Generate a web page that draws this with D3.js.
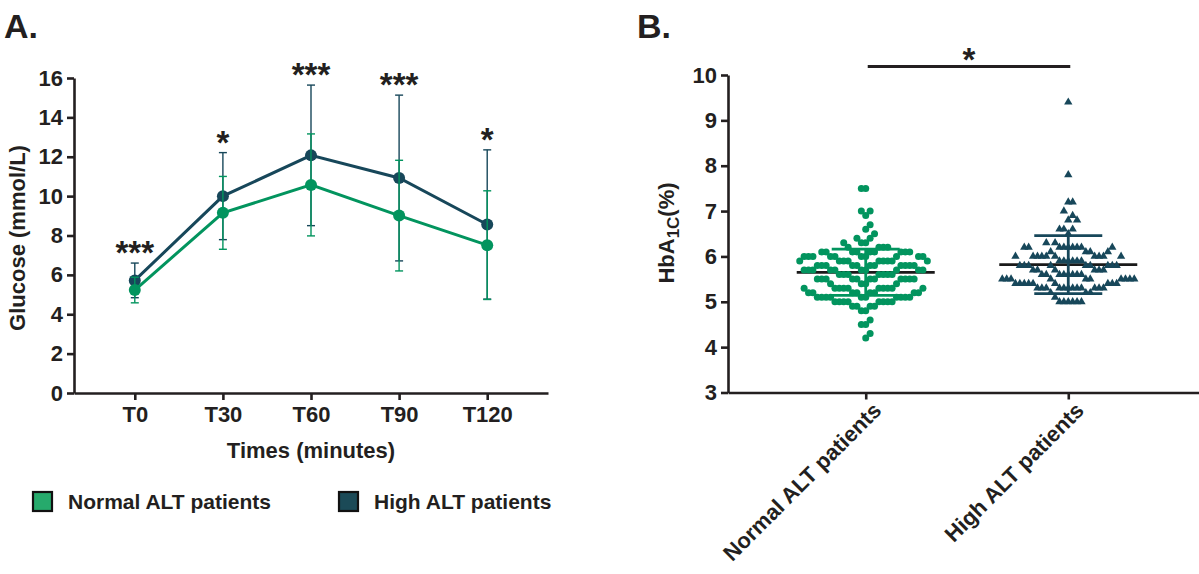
<!DOCTYPE html>
<html lang="en">
<head>
<meta charset="UTF-8">
<title>Glucose and HbA1c by ALT group</title>
<script src="https://cdn.jsdelivr.net/npm/d3@7"></script>
<style>
  body { margin: 0; background: #fff; }
  svg { display: block; font-family: "Liberation Sans", Arial, sans-serif; font-weight: bold; }
  .axis path, .axis line { stroke: #231f20; stroke-width: 2.6; }
  .axis text { font-size: 22px; font-weight: bold; fill: #231f20; font-family: "Liberation Sans", Arial, sans-serif; }
</style>
</head>
<body>
<svg id="chart" width="1199" height="574"></svg>
<script>
// panel A: OGTT glucose, mean and SD per time point
const timepoints = ["T0", "T30", "T60", "T90", "T120"];
const normalMean = [5.23, 9.15, 10.57, 9.01, 7.51];
const normalSD   = [0.65, 1.85, 2.59, 2.81, 2.76];
const highMean   = [5.72, 10.0, 12.07, 10.92, 8.56];
const highSD     = [0.88, 2.21, 3.57, 4.21, 3.79];
const pStars     = ["***", "*", "***", "***", "*"];
const glucoseTicks = [0, 2, 4, 6, 8, 10, 12, 14, 16];

// panel B: HbA1c, [value, number of patients]
const groups = ["Normal ALT patients", "High ALT patients"];
const normalHbA1c = [[4.2,1],[4.3,1],[4.5,2],[4.6,1],[4.8,2],[4.9,4],[5.0,8],[5.1,10],[5.2,8],[5.3,10],
  [5.4,4],[5.5,11],[5.6,7],[5.7,10],[5.8,11],[5.9,9],[6.0,10],[6.1,9],[6.2,4],[6.3,3],[6.4,2],
  [6.5,1],[6.6,1],[6.7,1],[6.9,1],[7.0,2],[7.5,2]];
const highHbA1c = [[5.0,6],[5.1,1],[5.2,3],[5.3,12],[5.4,9],[5.5,10],[5.6,8],[5.7,6],[5.8,9],[5.9,6],
  [6.0,10],[6.1,4],[6.2,9],[6.3,2],[6.5,1],[6.6,3],[6.8,2],[6.9,1],[7.0,1],[7.2,2],[7.8,1],[9.4,1]];
const hbMean = [5.65, 5.82];
const hbSD   = [0.51, 0.64];
const hbTicks = [3, 4, 5, 6, 7, 8, 9, 10];

const green = "#02945e";
const dark = "#17475a";
const ink = "#231f20";

const svg = d3.select("#chart");

// ---------- panel A ----------
const xA = d3.scalePoint().domain(timepoints).range([74, 548]).padding(0.69);
const yA = d3.scaleLinear().domain([0, 16]).range([393, 78]);

svg.append("g").attr("class", "axis")
  .attr("transform", "translate(74,0)")
  .call(d3.axisLeft(yA).tickValues(glucoseTicks).tickSize(7).tickSizeOuter(0).tickPadding(4));
svg.append("g").attr("class", "axis")
  .attr("transform", "translate(0,393)")
  .call(d3.axisBottom(xA).tickSize(7).tickSizeOuter(0).tickPadding(6));

svg.append("text").attr("transform", "translate(25,238) rotate(-90)")
  .attr("text-anchor", "middle").style("font-size", "22px").attr("fill", ink)
  .text("Glucose (mmol/L)");
svg.append("text").attr("x", xA("T60")).attr("y", 458)
  .attr("text-anchor", "middle").style("font-size", "22px").attr("fill", ink)
  .text("Times (minutes)");
svg.append("text").attr("x", 4).attr("y", 38).style("font-size", "34px").attr("fill", ink).text("A.");

const seriesA = [
  { mean: highMean, sd: highSD, color: dark },
  { mean: normalMean, sd: normalSD, color: green }
];

seriesA.forEach(s => {
  const g = svg.append("g");
  const rows = timepoints.map((t, i) => ({ t, m: s.mean[i], sd: s.sd[i] }));
  g.selectAll(".eb").data(rows).enter().append("line")
    .attr("x1", d => xA(d.t)).attr("x2", d => xA(d.t))
    .attr("y1", d => yA(d.m - d.sd)).attr("y2", d => yA(d.m + d.sd))
    .attr("stroke", s.color).attr("stroke-width", 1.4);
  [-1, 1].forEach(k => {
    g.selectAll(".cap").data(rows).enter().append("line")
      .attr("x1", d => xA(d.t) - 4).attr("x2", d => xA(d.t) + 4)
      .attr("y1", d => yA(d.m + k * d.sd)).attr("y2", d => yA(d.m + k * d.sd))
      .attr("stroke", s.color).attr("stroke-width", 1.4);
  });
  g.append("path").datum(rows)
    .attr("d", d3.line().x(d => xA(d.t)).y(d => yA(d.m)))
    .attr("fill", "none").attr("stroke", s.color).attr("stroke-width", 3);
  g.selectAll("circle").data(rows).enter().append("circle")
    .attr("cx", d => xA(d.t)).attr("cy", d => yA(d.m)).attr("r", 6)
    .attr("fill", s.color);
});

svg.selectAll(".star").data(timepoints).enter().append("text")
  .attr("x", t => xA(t)).attr("y", (t, i) => yA(highMean[i] + highSD[i]) + 1)
  .attr("text-anchor", "middle").style("font-size", "33px").attr("fill", ink)
  .text((t, i) => pStars[i]);

// legend
const legend = [
  { label: "Normal ALT patients", color: "#26aa6c", x: 33 },
  { label: "High ALT patients", color: "#1b4a57", x: 339 }
];
legend.forEach(l => {
  svg.append("rect").attr("x", l.x).attr("y", 492).attr("width", 19).attr("height", 19)
    .attr("fill", l.color).attr("stroke", "#111").attr("stroke-width", 2.2);
  svg.append("text").attr("x", l.x + 35).attr("y", 509).style("font-size", "21px")
    .attr("fill", ink).text(l.label);
});

// ---------- panel B ----------
const xB = d3.scalePoint().domain(groups).range([728, 1206]).padding(0.68);
const yB = d3.scaleLinear().domain([3, 10]).range([392.5, 75]);

svg.append("g").attr("class", "axis")
  .attr("transform", "translate(728,0)")
  .call(d3.axisLeft(yB).tickValues(hbTicks).tickFormat(d3.format("d"))
    .tickSize(7).tickSizeOuter(0).tickPadding(4));
const xAxisB = svg.append("g").attr("class", "axis")
  .attr("transform", "translate(0,392.5)")
  .call(d3.axisBottom(xB).tickSize(7).tickSizeOuter(0));
xAxisB.selectAll("text")
  .attr("text-anchor", "end")
  .attr("transform", "translate(11,14) rotate(-45)")
  .attr("dy", "0.35em").attr("y", 0).attr("x", 0);

const yLab = svg.append("text").attr("transform", "translate(674,233) rotate(-90)")
  .attr("text-anchor", "middle").style("font-size", "22px").attr("fill", ink);
yLab.append("tspan").text("HbA");
yLab.append("tspan").attr("dy", 5).style("font-size", "17px").text("1C");
yLab.append("tspan").attr("dy", -5).text("(%)");
svg.append("text").attr("x", 637).attr("y", 38).style("font-size", "34px").attr("fill", ink).text("B.");

// significance bar
svg.append("line").attr("x1", xB(groups[0]) + 2).attr("x2", xB(groups[1]) + 2)
  .attr("y1", 66.5).attr("y2", 66.5).attr("stroke", ink).attr("stroke-width", 3);
svg.append("text").attr("x", (xB(groups[0]) + xB(groups[1])) / 2 + 2).attr("y", 71)
  .attr("text-anchor", "middle").style("font-size", "33px").attr("fill", ink).text("*");

// greedy column scatter: a point may not share x with points up to two rows away
function swarm(pairs, step, half) {
  const placed = [];
  let flip = 1;
  pairs.forEach(([v, n]) => {
    for (let i = 0; i < n; i++) {
      const row = Math.round(v * 10);
      const near = placed.filter(p => Math.abs(p.row - row) <= 2);
      const cands = [0];
      near.forEach(p => cands.push(p.dx - step, p.dx + step));
      cands.sort((a, b) => Math.abs(a) - Math.abs(b) || flip * (a - b));
      const dx = cands.find(c => near.every(p => Math.abs(p.dx - c) >= step - 1e-6));
      placed.push({ v, row, dx });
      flip = -flip;
    }
  });
  const k = Math.min(1, half / d3.max(placed, p => Math.abs(p.dx)));
  placed.forEach(p => p.dx *= k);
  return placed;
}

const hbSets = [
  { data: normalHbA1c, color: green, shape: "circle" },
  { data: highHbA1c, color: dark, shape: "triangle" }
];

hbSets.forEach((s, gi) => {
  const cx = xB(groups[gi]);
  const g = svg.append("g");
  // mean line
  g.append("line").attr("x1", cx - 69).attr("x2", cx + 69)
    .attr("y1", yB(hbMean[gi])).attr("y2", yB(hbMean[gi]))
    .attr("stroke", "#1a1a1a").attr("stroke-width", 2.8);
  const pts = swarm(s.data, 6.4, 66);
  if (s.shape === "circle") {
    g.selectAll("circle").data(pts).enter().append("circle")
      .attr("cx", d => cx + d.dx).attr("cy", d => yB(d.v)).attr("r", 3.5)
      .attr("fill", s.color);
  } else {
    g.selectAll("path").data(pts).enter().append("path")
      .attr("d", d3.symbol(d3.symbolTriangle, 30))
      .attr("transform", d => `translate(${cx + d.dx},${yB(d.v)})`)
      .attr("fill", s.color);
  }
  // SD bar
  const lo = yB(hbMean[gi] - hbSD[gi]), hi = yB(hbMean[gi] + hbSD[gi]);
  g.append("line").attr("x1", cx).attr("x2", cx).attr("y1", lo).attr("y2", hi)
    .attr("stroke", s.color).attr("stroke-width", 2.8);
  [lo, hi].forEach(y => g.append("line").attr("x1", cx - 34).attr("x2", cx + 34)
    .attr("y1", y).attr("y2", y).attr("stroke", s.color).attr("stroke-width", 2.8));
});
</script>
</body>
</html>
